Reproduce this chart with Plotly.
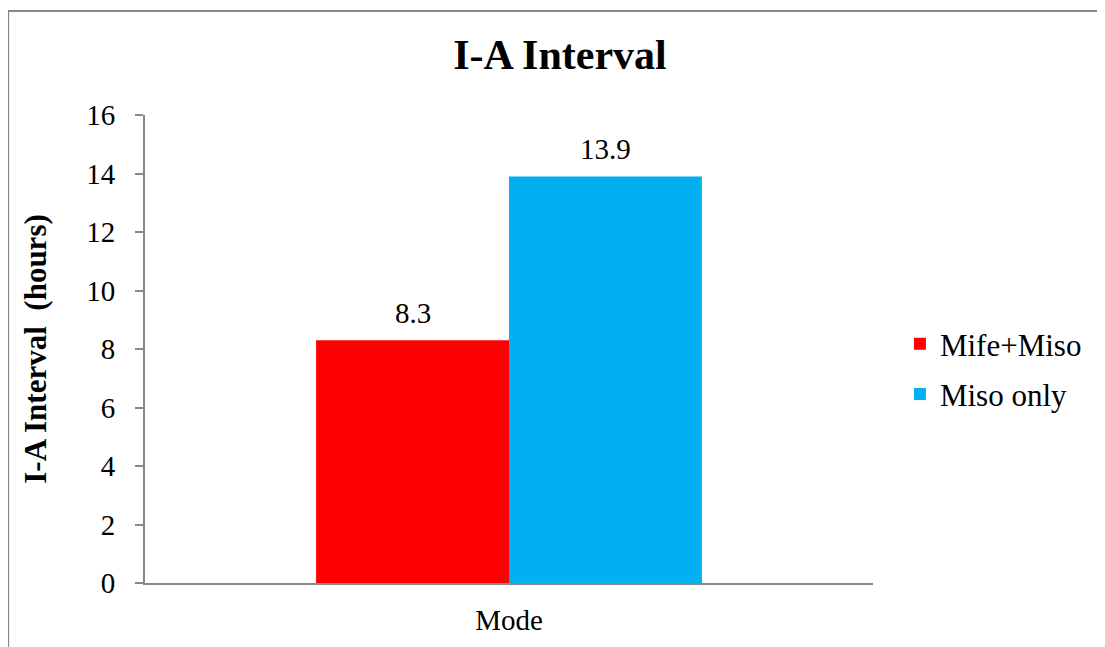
import plotly.graph_objects as go

categories = ["Mode"]
series_names = ["Mife+Miso", "Miso only"]
mife_miso = [8.3]
miso_only = [13.9]
colors = ["#FF0000", "#00B0F0"]

FONT = "Liberation Serif, Times New Roman, serif"
BARGAP = 0.47

series = [mife_miso, miso_only]
fig = go.Figure()
for i, (name, vals, col) in enumerate(zip(series_names, series, colors)):
    fig.add_trace(go.Bar(
        x=categories, y=vals, name=name, legendgroup=f"g{i}",
        marker=dict(color=col, line=dict(width=0)),
    ))

# data labels placed on the category scale (index units) above each bar
n = len(series)
bar_w = (1 - BARGAP) / n
annotations = []
for i, vals in enumerate(series):
    for ci, v in enumerate(vals):
        annotations.append(dict(
            x=ci - (1 - BARGAP) / 2 + bar_w * (i + 0.5), y=v, xref="x", yref="y",
            text=f"{v}", showarrow=False, yanchor="bottom", yshift=9,
            font=dict(family=FONT, size=29, color="black"),
        ))

fig.update_layout(
    width=1105, height=647,
    margin=dict(l=137, r=240, t=107, b=72),
    paper_bgcolor="white", plot_bgcolor="white",
    barmode="group", bargap=BARGAP, bargroupgap=0,
    font=dict(family=FONT, size=29, color="black"),
    title=dict(text="<b>I-A Interval</b>", x=552/1105, xref="container", xanchor="center",
               y=1 - 46/647, yref="container", yanchor="middle",
               font=dict(family=FONT, size=42, color="black")),
    showlegend=True,
    legend=dict(x=1.037, y=0.457, xanchor="left", yanchor="middle",
                font=dict(family=FONT, size=31, color="black"),
                tracegroupgap=7, bgcolor="rgba(0,0,0,0)"),
    xaxis=dict(showline=True, linecolor="#888888", linewidth=2, ticks="",
               ticklabelstandoff=10,
               tickfont=dict(family=FONT, size=29, color="black"), showgrid=False),
    yaxis=dict(range=[0, 16], dtick=2, showline=True, linecolor="#888888", linewidth=2,
               ticks="outside", ticklen=8, tickcolor="#888888", tickwidth=2,
               ticklabelstandoff=14,
               showgrid=False, zeroline=False,
               tickfont=dict(family=FONT, size=29, color="black"),
               title=dict(text="<b>I-A Interval\u00a0 (hours)</b>", standoff=30,
                          font=dict(family=FONT, size=31, color="black"))),
    annotations=annotations,
    shapes=[dict(type="rect", xref="paper", yref="paper", x0=-0.188, x1=1.6,
                 y0=-0.5, y1=1.222, line=dict(color="#888888", width=2),
                 fillcolor="rgba(0,0,0,0)", layer="below")],
)

fig.write_html("out.html")
